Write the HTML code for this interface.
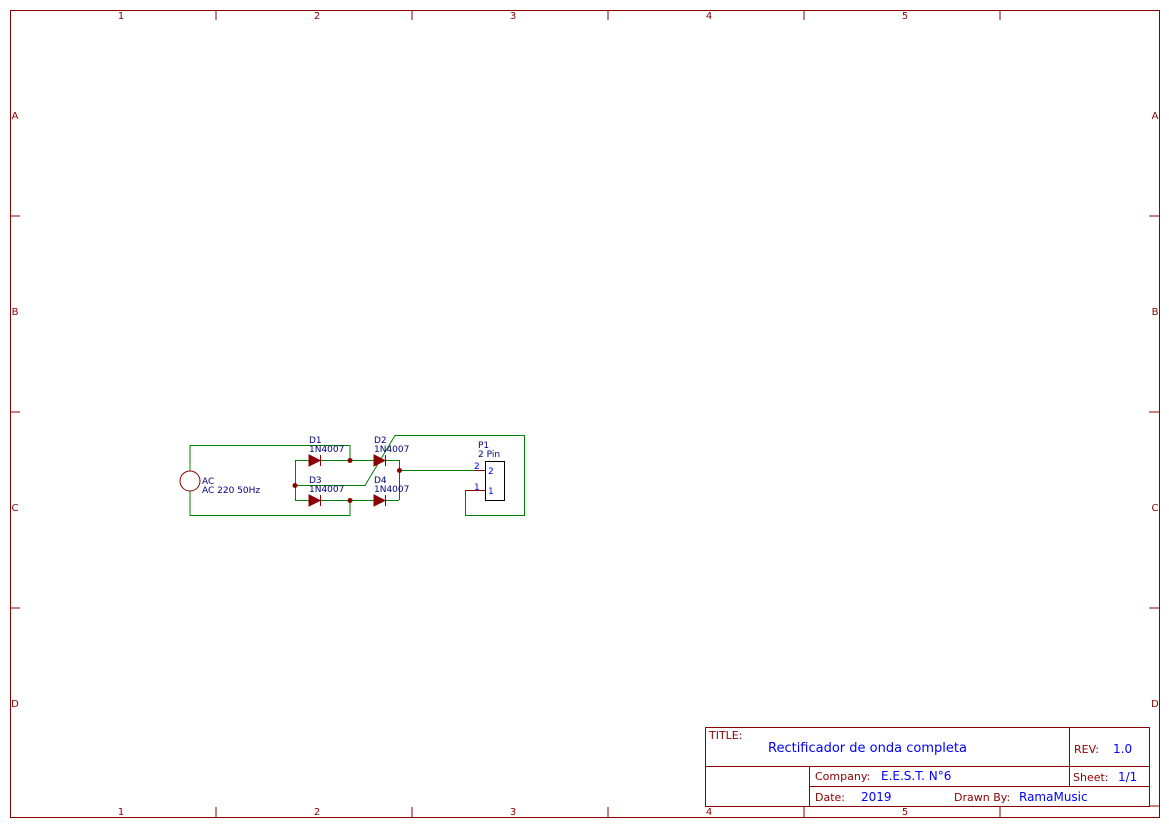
<!DOCTYPE html><html><head><style>body{margin:0;background:#fff}svg{display:block}</style></head><body>
<svg width="1169" height="827" xmlns="http://www.w3.org/2000/svg" font-family="DejaVu Sans, Liberation Sans, sans-serif">
<g stroke="#8b0000" stroke-width="1" fill="none">
<rect x="10.5" y="10.5" width="1149" height="807"/>
<path d="M216 10v10M412 10v10M608 10v10M804 10v10M1000 10v10M216 817v-10M412 817v-10M608 817v-10M804 817v-10M1000 817v-10M10 216h10M10 412h10M10 608h10M1159 216h-10M1159 412h-10M1159 608h-10M1159 806h-10"/>
<rect x="705.5" y="727.5" width="444" height="79"/>
<path d="M705 766.5h444M809 786.5h340M809.5 766v40M1069.5 727v59"/>
</g>
<g fill="#8b0000" font-size="10" text-anchor="middle">
<text x="121" y="19">1</text><text x="317" y="19">2</text><text x="513" y="19">3</text><text x="709" y="19">4</text><text x="905" y="19">5</text>
<text x="121" y="815">1</text><text x="317" y="815">2</text><text x="513" y="815">3</text><text x="709" y="815">4</text><text x="905" y="815">5</text>
<text x="15" y="119">A</text><text x="15" y="315">B</text><text x="15" y="511">C</text><text x="15" y="707">D</text>
<text x="1155" y="119">A</text><text x="1155" y="315">B</text><text x="1155" y="511">C</text><text x="1155" y="707">D</text>
</g>
<g font-size="11">
<text x="709" y="739" fill="#8b0000">TITLE:</text>
<text x="768" y="752" fill="#0000ff" font-size="13">Rectificador de onda completa</text>
<text x="1074" y="753" fill="#8b0000">REV:</text><text x="1113" y="753" fill="#0000ff" font-size="12">1.0</text>
<text x="815" y="780" fill="#8b0000">Company:</text><text x="881" y="780" fill="#0000ff" font-size="12">E.E.S.T. N°6</text>
<text x="1073" y="781" fill="#8b0000">Sheet:</text><text x="1118" y="781" fill="#0000ff" font-size="12">1/1</text>
<text x="815" y="801" fill="#8b0000">Date:</text><text x="861" y="801" fill="#0000ff" font-size="12">2019</text>
<text x="954" y="801" fill="#8b0000">Drawn By:</text><text x="1019" y="801" fill="#0000ff" font-size="12">RamaMusic</text>
</g>
<g stroke="#008000" stroke-width="1" fill="none">
<path d="M190 471V445.5H350V460M190 491V515.5H350V500"/>
<path d="M295 460.5H399M295 500.5H399M295.5 460V500M399.5 460V500"/>
<path d="M295 485.5H365L395 435.5H524.5V515.5H465.5V490"/>
<path d="M399 470.5H475"/>
</g>
<g stroke="#8b0000" fill="none">
<circle cx="190" cy="481" r="10"/>
<path d="M475 470.5h10M465 490.5h20"/>
<rect x="485.5" y="461.5" width="19" height="39" stroke="#000"/>
</g>
<g fill="#8b0000" stroke="#8b0000">
<path d="M309 455L320 460.5L309 466Z"/><path d="M320.5 455v11"/>
<path d="M374 455L385 460.5L374 466Z"/><path d="M385.5 455v11"/>
<path d="M309 495L320 500.5L309 506Z"/><path d="M320.5 495v11"/>
<path d="M374 495L385 500.5L374 506Z"/><path d="M385.5 495v11"/>
<circle cx="350" cy="460.5" r="2"/><circle cx="350" cy="500.5" r="2"/><circle cx="295" cy="485.5" r="2"/><circle cx="399.5" cy="470.5" r="2"/>
</g>
<g fill="#000080" font-size="9">
<text x="309" y="443">D1</text><text x="309" y="452">1N4007</text>
<text x="374" y="443">D2</text><text x="374" y="452">1N4007</text>
<text x="309" y="483">D3</text><text x="309" y="492">1N4007</text>
<text x="374" y="483">D4</text><text x="374" y="492">1N4007</text>
<text x="202" y="484">AC</text><text x="202" y="493">AC 220 50Hz</text>
<text x="478" y="448">P1</text><text x="478" y="457">2 Pin</text>
</g>
<g fill="#0000ff" font-size="9">
<text x="474" y="469">2</text><text x="488" y="474">2</text>
<text x="474" y="490">1</text><text x="488" y="494">1</text>
</g>
</svg>
</body></html>
